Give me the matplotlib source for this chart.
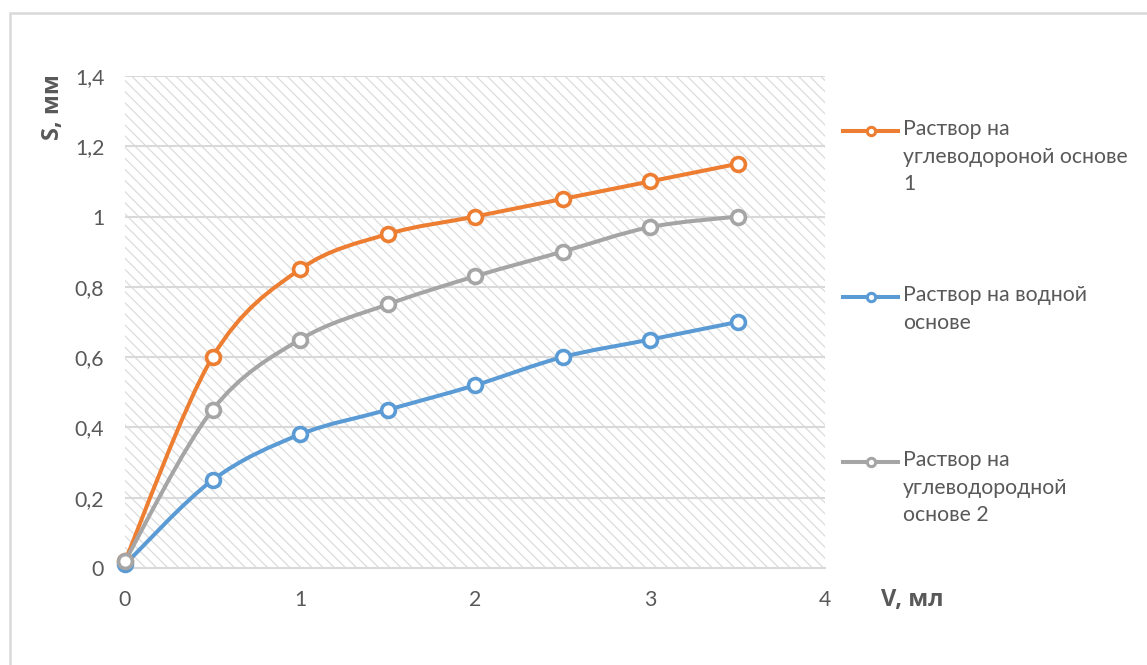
import numpy as np
import matplotlib
matplotlib.use("Agg")
import matplotlib.pyplot as plt
from matplotlib.path import Path
from matplotlib.patches import PathPatch, Rectangle
from matplotlib.lines import Line2D

plt.rcParams['font.family'] = ['Lato', 'Open Sans', 'DejaVu Sans']
plt.rcParams['hatch.color'] = '#dcdcdc'
plt.rcParams['hatch.linewidth'] = 0.9

# ---- data ----
x_vals = [0, 0.5, 1, 1.5, 2, 2.5, 3, 3.5]
s_hydro1 = [0.02, 0.60, 0.85, 0.95, 1.00, 1.05, 1.10, 1.15]
s_water = [0.01, 0.25, 0.38, 0.45, 0.52, 0.60, 0.65, 0.70]
s_hydro2 = [0.02, 0.45, 0.65, 0.75, 0.83, 0.90, 0.97, 1.00]
labels = ["Раствор на\nуглеводороной основе\n1",
          "Раствор на водной\nоснове",
          "Раствор на\nуглеводородной\nоснове 2"]
x_ticks = [0, 1, 2, 3, 4]
y_ticks = [0, 0.2, 0.4, 0.6, 0.8, 1.0, 1.2, 1.4]
y_tick_labels = ["0", "0,2", "0,4", "0,6", "0,8", "1", "1,2", "1,4"]

colors = ['#ED7D31', '#5B9BD5', '#A5A5A5']
series = [s_hydro1, s_water, s_hydro2]
TXT = '#595959'
FS = 15.3
BOLD_FONT = ['Open Sans', 'Noto Sans', 'DejaVu Sans']

W, H = 1147, 665
fig = plt.figure(figsize=(W / 100, H / 100), dpi=100)

# chart frame
fig.patches.append(Rectangle((10 / W, -0.1), 1.2, 1 - 13 / H + 0.1, transform=fig.transFigure,
                             fill=False, edgecolor='#d9d9d9', linewidth=1.8))

ax = fig.add_axes([125 / W, 1 - 568 / H, 700 / W, 492 / H])
ax.set_xlim(0, 4)
ax.set_ylim(0, 1.4)

# hatched plot area
ax.add_patch(Rectangle((0, 0), 1, 1, transform=ax.transAxes, facecolor='white',
                       edgecolor='#dcdcdc', linewidth=0, hatch='\\\\\\', zorder=0.5))

for sp in ['top', 'right', 'left']:
    ax.spines[sp].set_visible(False)
ax.spines['bottom'].set_color('#d9d9d9')
ax.spines['bottom'].set_linewidth(1.5)
ax.spines['bottom'].set_zorder(1)
for yv in y_ticks[1:]:
    ax.axhline(yv, color='#d9d9d9', linewidth=1.5, zorder=1)

ax.set_xticks(x_ticks)
ax.set_xticklabels([str(t) for t in x_ticks])
ax.set_yticks(y_ticks)
ax.set_yticklabels(y_tick_labels)
ax.tick_params(length=0, labelsize=FS, labelcolor=TXT)
ax.tick_params(axis='x', pad=16)
ax.tick_params(axis='y', pad=15)


def smooth_path(xs, ys):
    xs = np.asarray(xs, float)
    ys = np.asarray(ys, float)
    pts = np.column_stack([xs, ys])
    verts = [pts[0]]
    codes = [Path.MOVETO]
    n = len(pts)
    for i in range(n - 1):
        p0 = pts[i - 1] if i > 0 else pts[i]
        p1 = pts[i]
        p2 = pts[i + 1]
        p3 = pts[i + 2] if i + 2 < n else pts[i + 1]
        c1 = p1 + (p2 - p0) / 6.0
        c2 = p2 - (p3 - p1) / 6.0
        verts += [c1, c2, p2]
        codes += [Path.CURVE4] * 3
    return Path(verts, codes)


for s, c in zip(series, colors):
    ax.add_patch(PathPatch(smooth_path(x_vals, s), facecolor='none', edgecolor=c,
                           linewidth=2.9, capstyle='round', zorder=3))
    ax.plot(x_vals, s, linestyle='none', marker='o', markersize=10,
            markerfacecolor='white', markeredgecolor=c, markeredgewidth=2.6,
            zorder=4, clip_on=False)

fig.text(53 / W, 1 - 74 / H, "S, мм", rotation=90, ha='center', va='top',
         fontsize=17, fontweight='bold', color=TXT, family=BOLD_FONT)
fig.text(912 / W, 1 - 600 / H, "V, мл", ha='center', va='center',
         fontsize=17, fontweight='bold', color=TXT, family=BOLD_FONT)

# legend
leg_y = [131, 297, 462]
for yy, c, lab in zip(leg_y, colors, labels):
    yf = 1 - yy / H
    fig.add_artist(Line2D([843 / W, 898 / W], [yf, yf], transform=fig.transFigure,
                          color=c, linewidth=2.9, marker='none'))
    fig.add_artist(Line2D([871 / W], [yf], transform=fig.transFigure, color=c,
                          marker='o', markersize=6, markerfacecolor='white',
                          markeredgecolor=c, markeredgewidth=2.2, linestyle='none'))
    fig.text(903 / W, yf + 12 / H, lab, ha='left', va='top', fontsize=FS,
             color=TXT, linespacing=1.48)

fig.savefig("out.png", dpi=100)
